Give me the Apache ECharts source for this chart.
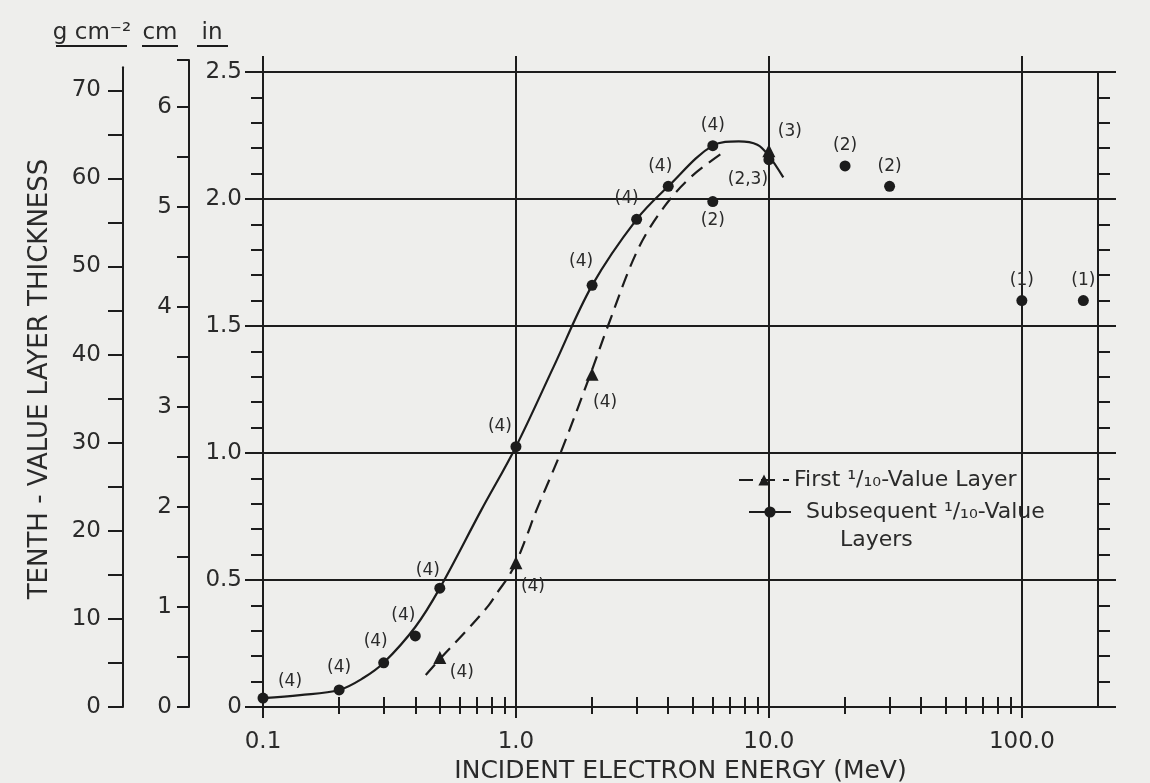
<!DOCTYPE html>
<html>
<head>
<meta charset="utf-8">
<script src="https://cdn.jsdelivr.net/npm/echarts@6/dist/echarts.min.js"></script>
<style>
html,body{margin:0;padding:0;background:#eeeeec;}
#chart{width:1150px;height:783px;}
</style>
</head>
<body>
<div id="chart"></div>
<script>
// ---------------- data ----------------
// energy axis (MeV, log)
const energyMajorTicks = [0.1, 1, 10, 100];
const energyMinorTicks = [0.2, 0.3, 0.4, 0.5, 0.6, 0.7, 0.8, 0.9,
                          2, 3, 4, 5, 6, 7, 8, 9,
                          20, 30, 40, 50, 60, 70, 80, 90];
// secondary thickness scales
const gTickValues = [0, 5, 10, 15, 20, 25, 30, 35, 40, 45, 50, 55, 60, 65, 70];
const gLabelValues = [0, 10, 20, 30, 40, 50, 60, 70];

// Subsequent 1/10-value layers (circles), thickness in inches of lead
const subsequentEnergy = [0.1, 0.2, 0.3, 0.4, 0.5, 1.0, 2.0, 3.0, 4.0, 6.0, 6.0, 10, 20, 30, 100, 175];
const subsequentTVL    = [0.035, 0.067, 0.174, 0.28, 0.468, 1.025, 1.66, 1.92, 2.05, 2.21, 1.99, 2.155, 2.13, 2.05, 1.60, 1.60];
const subsequentRefs   = ['(4)', '(4)', '(4)', '(4)', '(4)', '(4)', '(4)', '(4)', '(4)', '(4)', '(2)', '(2,3)', '(2)', '(2)', '(1)', '(1)'];

// First 1/10-value layer (triangles)
const firstEnergy = [0.5, 1.0, 2.0, 10];
const firstTVL    = [0.195, 0.568, 1.31, 2.19];
const firstRefs   = ['(4)', '(4)', '(4)', '(3)'];

// curves
const subsequentCurveEnergy = [0.1, 0.14, 0.2, 0.25, 0.3, 0.4, 0.5, 0.73, 1.0, 1.41, 2.0, 3.0, 4.0, 6.0, 7.6, 9.0, 10, 11.4];
const subsequentCurveTVL    = [0.035, 0.047, 0.067, 0.115, 0.174, 0.315, 0.468, 0.776, 1.025, 1.34, 1.66, 1.92, 2.05, 2.21, 2.227, 2.214, 2.17, 2.085];
const firstCurveEnergy = [0.44, 0.51, 0.63, 0.78, 0.85, 0.93, 1.0, 1.1, 1.2, 1.5, 1.97, 2.31, 3.03, 3.86, 4.96, 6.74];
const firstCurveTVL    = [0.126, 0.198, 0.295, 0.40, 0.455, 0.51, 0.568, 0.67, 0.77, 1.0, 1.31, 1.50, 1.80, 1.97, 2.09, 2.19];

const firstName = 'First \u00B9/\u2081\u2080-Value Layer';
const subsequentName = 'Subsequent \u00B9/\u2081\u2080-Value Layers';

// ---------------- layout (not data) ----------------
const ink = '#1c1c1c';
const txt = '#2a2a2a';
const FONT = 'DejaVu Sans';
const zeroY = 707;            // pixel row of zero thickness
const topY = 72;              // pixel row of 2.5 in
const inMax = 2.5;
const pxPerIn = (zeroY - topY) / inMax;
const pxPerCm = pxPerIn / 2.54;
const leadDensity = 11.35;
const pxPerG = pxPerCm / leadDensity;
const cmMax = 6.47;
const gMax = 72.6;
const bottomGap = 783 - zeroY;

const subsequentLabelOffset = [[27,-17],[0,-22],[-8,-21],[-12,-20],[-12,-18],[-16,-20],[-11,-24],[-10,-21],[-8,-20],[0,-20],[0,19],[-21,20],[0,-20],[0,-20],[0,-20],[0,-20]];
const firstLabelOffset = [[22,15],[17,24],[13,28],[21,-19]];

const lineW = 2;
const tickStyle = {color: ink, width: lineW};
const labelStyle = {fontSize: 23, color: txt, fontFamily: FONT};

const chart = echarts.init(document.getElementById('chart'), null, {renderer: 'canvas'});

const option = {
  backgroundColor: '#eeeeec',
  animation: false,
  textStyle: {fontFamily: FONT},
  grid: [
    {left: 263, right: 52, top: topY, bottom: bottomGap, containLabel: false, outerBoundsMode: 'none'},
    {left: 189, width: 1, top: zeroY - cmMax * pxPerCm, bottom: bottomGap, containLabel: false, outerBoundsMode: 'none'},
    {left: 123, width: 1, top: zeroY - gMax * pxPerG, bottom: bottomGap, containLabel: false, outerBoundsMode: 'none'}
  ],
  xAxis: [
    { // main bottom axis: majors, labels, vertical grid
      gridIndex: 0, type: 'log', logBase: 10, min: 0.1, max: 200, position: 'bottom',
      axisLine: {show: true, onZero: false, lineStyle: tickStyle},
      axisTick: {show: true, customValues: energyMajorTicks, length: 11, lineStyle: tickStyle},
      axisLabel: {show: true, customValues: energyMajorTicks, margin: 24,
                  formatter: v => Number(v).toFixed(1), ...labelStyle},
      splitLine: {show: true, lineStyle: tickStyle},
      name: 'INCIDENT ELECTRON ENERGY (MeV)', nameLocation: 'middle', nameGap: 46,
      nameTextStyle: {fontSize: 25, color: txt, fontFamily: FONT}
    },
    { // bottom minor ticks
      gridIndex: 0, type: 'log', logBase: 10, min: 0.1, max: 200, position: 'bottom',
      axisLine: {show: false},
      axisTick: {show: true, customValues: energyMinorTicks, length: 7, lineStyle: tickStyle},
      axisLabel: {show: false}, splitLine: {show: false}
    },
    { // top border with major ticks
      gridIndex: 0, type: 'log', logBase: 10, min: 0.1, max: 200, position: 'top',
      axisLine: {show: true, onZero: false, lineStyle: tickStyle},
      axisTick: {show: true, customValues: energyMajorTicks, length: 16, lineStyle: tickStyle},
      axisLabel: {show: false}, splitLine: {show: false}
    },
    { // top minor ticks
      gridIndex: 0, type: 'log', logBase: 10, min: 0.1, max: 200, position: 'top',
      axisLine: {show: false},
      axisTick: {show: true, customValues: energyMinorTicks, length: 10, lineStyle: tickStyle},
      axisLabel: {show: false}, splitLine: {show: false}
    },
    {gridIndex: 1, type: 'value', show: false},
    {gridIndex: 2, type: 'value', show: false}
  ],
  yAxis: [
    { // inches (main)
      gridIndex: 0, type: 'value', min: 0, max: inMax, interval: 0.5, position: 'left',
      axisLine: {show: true, onZero: false, lineStyle: tickStyle},
      axisTick: {show: true, length: 18, lineStyle: tickStyle},
      minorTick: {show: true, splitNumber: 5, length: 12, lineStyle: tickStyle},
      axisLabel: {show: true, margin: 21, formatter: v => v === 0 ? '0' : Number(v).toFixed(1), ...labelStyle},
      splitLine: {show: true, lineStyle: tickStyle}
    },
    { // right border
      gridIndex: 0, type: 'value', min: 0, max: inMax, interval: 0.5, position: 'right',
      axisLine: {show: true, onZero: false, lineStyle: tickStyle},
      axisTick: {show: true, length: 18, lineStyle: tickStyle},
      minorTick: {show: true, splitNumber: 5, length: 12, lineStyle: tickStyle},
      axisLabel: {show: false}, splitLine: {show: false}
    },
    { // centimetres
      gridIndex: 1, type: 'value', min: 0, max: cmMax, interval: 0.5, position: 'left',
      axisLine: {show: true, onZero: false, lineStyle: tickStyle},
      axisTick: {show: true, length: 12, lineStyle: tickStyle},
      axisLabel: {show: true, margin: 17, formatter: v => Number.isInteger(v) ? String(v) : '', ...labelStyle},
      splitLine: {show: false}
    },
    { // g cm^-2
      gridIndex: 2, type: 'value', min: 0, max: gMax, interval: 5, position: 'left',
      axisLine: {show: true, onZero: false, lineStyle: tickStyle},
      axisTick: {show: true, customValues: gTickValues, length: 15, lineStyle: tickStyle},
      axisLabel: {show: true, customValues: gLabelValues, margin: 22, formatter: v => String(v), ...labelStyle},
      splitLine: {show: false}
    }
  ],
  legend: [
    {
      data: [firstName], orient: 'vertical', left: 738, top: 469, padding: 0,
      itemWidth: 50, itemHeight: 14, selectedMode: false,
      textStyle: {fontSize: 22, color: txt, fontFamily: FONT}
    },
    {
      data: [subsequentName], orient: 'vertical', left: 748, top: 501, padding: 0,
      itemWidth: 42, itemHeight: 14, selectedMode: false,
      formatter: () => '{a|Subsequent \u00B9/\u2081\u2080-Value}\n{b|Layers}',
      textStyle: {
        fontSize: 22, color: txt, fontFamily: FONT, padding: [28, 0, 0, 0],
        rich: {
          a: {fontSize: 22, lineHeight: 28, color: txt, fontFamily: FONT, padding: [0, 0, 0, 10]},
          b: {fontSize: 22, lineHeight: 28, color: txt, fontFamily: FONT, padding: [0, 0, 0, 44]}
        }
      }
    }
  ],
  graphic: [
    {type: 'text', x: 92, y: 33, style: {text: 'g cm\u207B\u00B2', font: '23px "DejaVu Sans"', fill: txt, align: 'center', verticalAlign: 'middle'}},
    {type: 'text', x: 160, y: 33, style: {text: 'cm', font: '23px "DejaVu Sans"', fill: txt, align: 'center', verticalAlign: 'middle'}},
    {type: 'text', x: 212, y: 33, style: {text: 'in', font: '23px "DejaVu Sans"', fill: txt, align: 'center', verticalAlign: 'middle'}},
    {type: 'line', shape: {x1: 56, y1: 46, x2: 127, y2: 46}, style: {stroke: ink, lineWidth: 2}},
    {type: 'line', shape: {x1: 142, y1: 46, x2: 178, y2: 46}, style: {stroke: ink, lineWidth: 2}},
    {type: 'line', shape: {x1: 197, y1: 46, x2: 228, y2: 46}, style: {stroke: ink, lineWidth: 2}},
    {type: 'text', x: 40, y: 379, rotation: Math.PI / 2,
     style: {text: 'TENTH - VALUE LAYER THICKNESS', font: '26px "DejaVu Sans"', fill: txt, align: 'center', verticalAlign: 'middle'}}
  ],
  series: [
    {
      name: firstName, type: 'line', xAxisIndex: 0, yAxisIndex: 0,
      data: firstCurveEnergy.map((e, i) => [e, firstCurveTVL[i]]),
      smooth: 0.35, showSymbol: false, symbol: 'triangle', symbolSize: 13,
      lineStyle: {color: ink, width: 2.2, type: [14, 8]},
      itemStyle: {color: ink}, silent: true, z: 3
    },
    {
      name: subsequentName, type: 'line', xAxisIndex: 0, yAxisIndex: 0,
      data: subsequentCurveEnergy.map((e, i) => [e, subsequentCurveTVL[i]]),
      smooth: 0.35, showSymbol: false, symbol: 'circle', symbolSize: 11,
      lineStyle: {color: ink, width: 2.2},
      itemStyle: {color: ink}, silent: true, z: 3
    },
    {
      name: 'first-points', type: 'scatter', xAxisIndex: 0, yAxisIndex: 0,
      symbol: 'triangle', symbolSize: 13, itemStyle: {color: ink, opacity: 1}, z: 5,
      data: firstEnergy.map((e, i) => ({value: [e, firstTVL[i]], label: {offset: firstLabelOffset[i]}})),
      label: {show: true, position: 'inside', formatter: p => firstRefs[p.dataIndex],
              fontSize: 17, color: txt, fontFamily: FONT}
    },
    {
      name: 'subsequent-points', type: 'scatter', xAxisIndex: 0, yAxisIndex: 0,
      symbol: 'circle', symbolSize: 11, itemStyle: {color: ink, opacity: 1}, z: 5,
      data: subsequentEnergy.map((e, i) => ({value: [e, subsequentTVL[i]], label: {offset: subsequentLabelOffset[i]}})),
      label: {show: true, position: 'inside', formatter: p => subsequentRefs[p.dataIndex],
              fontSize: 17, color: txt, fontFamily: FONT}
    }
  ]
};
chart.setOption(option);
</script>
</body>
</html>
